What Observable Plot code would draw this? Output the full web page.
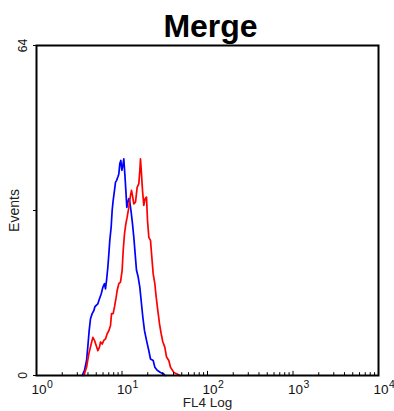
<!DOCTYPE html>
<html>
<head>
<meta charset="utf-8">
<script src="https://cdn.jsdelivr.net/npm/d3@7"></script>
<script src="https://cdn.jsdelivr.net/npm/@observablehq/plot@0.6"></script>
<style>
  html, body { margin: 0; padding: 0; background: #fff; }
  svg { display: block; }
</style>
</head>
<body>
<div id="chart"></div>
<script>
const title = "Merge";
const xLabel = "FL4 Log";
const yLabel = "Events";

// blue histogram (FL4 value, events)
const blueFL4 = [3.42, 3.64, 3.85, 3.98, 4.13, 4.28, 4.48, 4.69, 4.81, 4.99, 5.22, 5.45, 5.71, 5.97, 6.24, 6.41, 6.59, 6.83, 7.02, 7.20, 7.47, 7.67, 7.88, 8.17, 8.40, 8.63, 8.94, 9.18, 9.43, 9.69, 9.96, 10.23, 10.50, 10.79, 11.09, 11.39, 11.70, 12.02, 12.35, 12.80, 13.27, 13.75, 14.25, 14.78, 15.46, 16.17, 16.76, 17.53, 18.33, 19.35, 20.60, 21.54, 23.16, 24.22, 25.79, 28.20, 30.84, 32.0];
const blueEvents = [0, 1.0, 2.9, 5.5, 8.7, 11.0, 12.0, 12.6, 13.3, 13.6, 13.9, 14.9, 15.8, 17.1, 17.8, 16.8, 18.4, 21.0, 23.6, 26.2, 28.8, 32.0, 33.9, 35.9, 37.5, 37.8, 38.5, 39.1, 41.1, 41.7, 39.8, 40.7, 42.0, 39.1, 35.9, 32.6, 33.6, 34.3, 33.6, 31.7, 29.4, 26.8, 23.6, 20.4, 19.1, 17.1, 14.5, 11.3, 8.7, 6.8, 4.8, 3.2, 2.9, 1.6, 1.0, 0.6, 0.3, 0];

// red histogram (FL4 value, events)
const redFL4 = [3.58, 3.85, 4.09, 4.36, 4.56, 4.77, 4.99, 5.22, 5.45, 5.61, 5.86, 6.13, 6.41, 6.71, 7.02, 7.34, 7.54, 7.88, 8.17, 8.55, 8.78, 9.18, 9.60, 10.04, 10.32, 10.70, 11.09, 11.49, 12.02, 12.57, 12.91, 13.27, 13.75, 14.38, 15.04, 15.73, 16.17, 16.45, 16.90, 17.37, 17.99, 18.66, 19.35, 19.87, 20.60, 21.54, 22.34, 23.16, 24.22, 25.11, 26.25, 27.46, 28.73, 30.04, 31.68, 33.15, 35.29, 36.90, 40.36, 44.15, 47.45];
const redEvents = [0, 1.6, 4.2, 6.1, 7.4, 6.8, 5.8, 4.8, 5.5, 6.5, 6.1, 6.8, 7.1, 8.1, 8.7, 9.7, 12.0, 12.0, 13.3, 15.2, 16.5, 17.8, 18.1, 20.4, 24.2, 27.5, 29.4, 30.7, 32.6, 34.9, 35.9, 34.9, 33.3, 33.6, 36.5, 37.2, 39.8, 42.0, 39.1, 35.9, 33.0, 34.3, 34.6, 30.1, 26.8, 26.2, 22.9, 19.7, 17.8, 15.2, 12.6, 10.0, 8.1, 6.5, 5.5, 3.6, 2.9, 1.6, 0.6, 0.3, 0];

// axes
const xMajorTicks = [1, 10, 100, 1000, 10000];
const xTickBase = ["10", "10", "10", "10", "10"];
const xTickExponents = ["0", "1", "2", "3", "4"];
const yTicks = [0, 32, 64];
const yTickLabels = ["0", "", "64"];

const blue = blueFL4.map((v, i) => ({fl4: v, events: blueEvents[i]}));
const red = redFL4.map((v, i) => ({fl4: v, events: redEvents[i]}));
const xMinorTicks = d3.scaleLog().domain([1, 10000]).ticks().filter(t => !xMajorTicks.includes(t));

const font = "'Liberation Sans', Arial, Helvetica, sans-serif";

const chart = Plot.plot({
  width: 394,
  height: 411,
  marginTop: 45,
  marginLeft: 36,
  marginRight: 16,
  marginBottom: 36,
  style: {background: "#fff", fontFamily: font, color: "#000"},
  x: {type: "log", domain: [1, 10000], axis: null},
  y: {domain: [0, 64], axis: null},
  marks: [
    Plot.line(blue, {x: "fl4", y: "events", stroke: "#0000ff", strokeWidth: 1.7}),
    Plot.line(red, {x: "fl4", y: "events", stroke: "#ff0000", strokeWidth: 1.7}),
    Plot.ruleX(xMinorTicks, {x: d => d, y1: 0, y2: 0.55, stroke: "#000", strokeWidth: 1}),
    Plot.ruleX(xMajorTicks, {x: d => d, y1: 0, y2: 0.8, stroke: "#000", strokeWidth: 1}),
    Plot.axisY({ticks: yTicks, tickSize: 3, tickFormat: () => "", label: null, stroke: "#000"}),
    Plot.frame({stroke: "#000", strokeWidth: 2}),
    Plot.text(xMajorTicks, {x: d => d, text: (d, i) => xTickBase[i], frameAnchor: "bottom", textAnchor: "start", lineAnchor: "bottom", dx: -5, dy: 18, fontSize: 13.5, fill: "#111"}),
    Plot.text(xMajorTicks, {x: d => d, text: (d, i) => xTickExponents[i], frameAnchor: "bottom", textAnchor: "start", lineAnchor: "bottom", dx: 10.5, dy: 12, fontSize: 10.5, fill: "#111"}),
    Plot.text(yTicks, {y: d => d, text: (d, i) => yTickLabels[i], frameAnchor: "left", textAnchor: "middle", lineAnchor: "middle", rotate: -90, dx: -13.5, fontSize: 12, fill: "#111"}),
    Plot.text([yLabel], {text: d => d, frameAnchor: "left", textAnchor: "middle", lineAnchor: "middle", rotate: -90, dx: -22, fontSize: 14, fill: "#222"}),
    Plot.text([xLabel], {text: d => d, frameAnchor: "bottom", textAnchor: "middle", lineAnchor: "bottom", dy: 31.5, fontSize: 13.5, fill: "#222"}),
    Plot.text([title], {text: d => d, frameAnchor: "top", textAnchor: "middle", lineAnchor: "bottom", dx: 3, dy: -9, fontSize: 32, fontWeight: "bold", fill: "#000"})
  ]
});
document.getElementById("chart").appendChild(chart);
</script>
</body>
</html>
